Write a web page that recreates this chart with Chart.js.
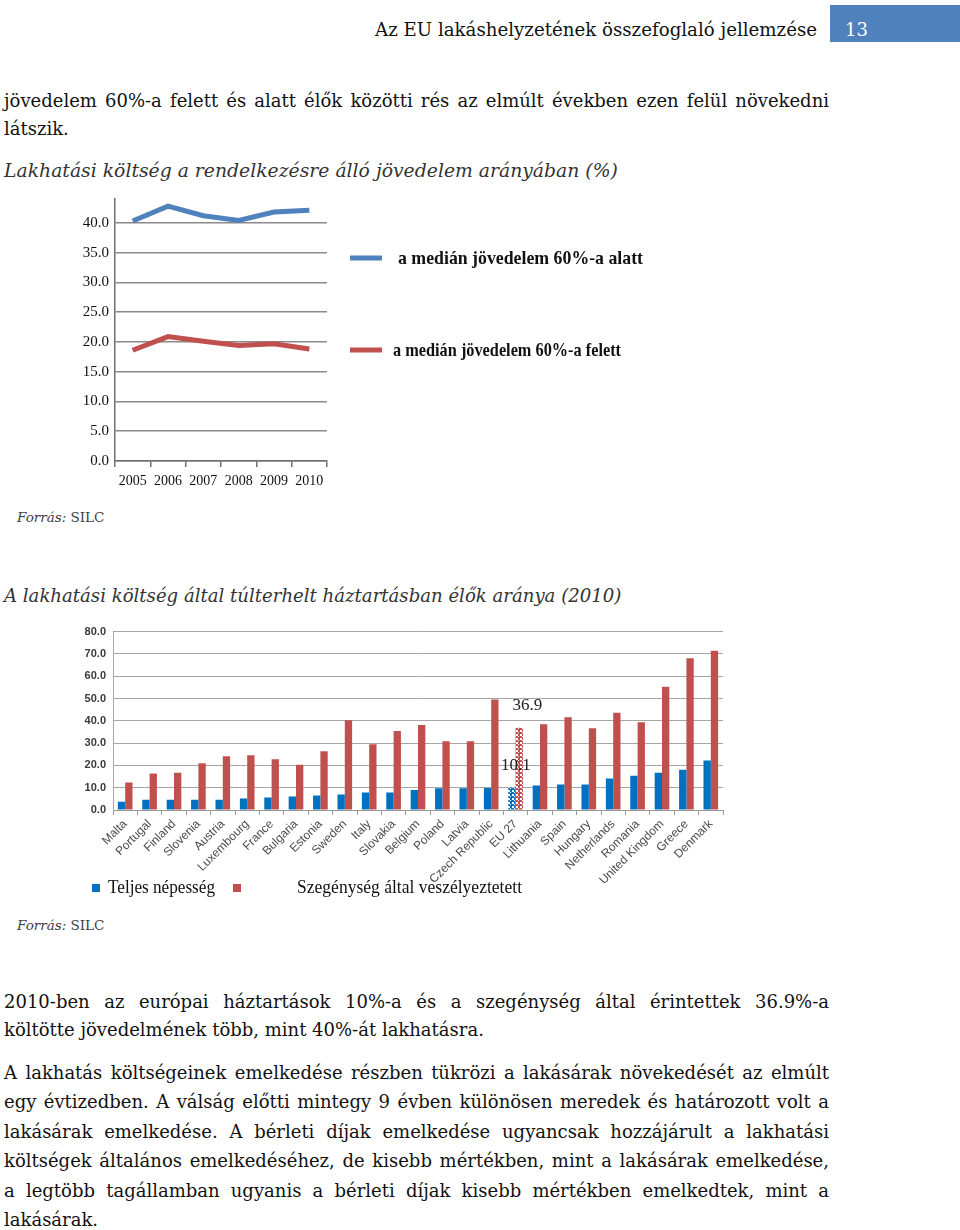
<!DOCTYPE html>
<html lang="hu">
<head>
<meta charset="utf-8">
<script src="https://cdn.jsdelivr.net/npm/chart.js@4.4.1/dist/chart.umd.min.js"></script>
<style>
body{margin:0;width:960px;height:1230px;position:relative;background:#fff;font-family:'DejaVu Serif',serif;color:#111;overflow:hidden}
.ln{position:absolute;left:4px;width:825px;font-size:18px;line-height:22px;white-space:nowrap}
.j{text-align:justify;text-align-last:justify;white-space:normal}
.cap{font-style:italic;color:#333;font-size:18.6px}
.src{position:absolute;left:17px;font-size:13.5px;line-height:20px;color:#404040}
.hdr{position:absolute;right:143px;top:18px;font-size:18.2px;line-height:24px}
.pg{position:absolute;left:830px;top:5px;width:130px;height:37px;background:#4f81bd}
.pgn{position:absolute;left:845px;top:18px;font-size:18px;line-height:24px;color:#fff}
.box{position:absolute}
</style>
</head>
<body>
<div class="hdr">Az EU lakáshelyzetének összefoglaló jellemzése</div>
<div class="pg"></div>
<div class="pgn">13</div>

<div class="ln j" style="top:90px">jövedelem 60%-a felett és alatt élők közötti rés az elmúlt években ezen felül növekedni</div>
<div class="ln" style="top:118px">látszik.</div>
<div class="ln cap" style="top:160px;font-size:18.8px">Lakhatási költség a rendelkezésre álló jövedelem arányában (%)</div>

<div class="box" style="left:60px;top:184px;width:620px;height:316px"><canvas id="lineChart"></canvas></div>

<div class="src" style="top:507px"><i>Forrás:</i> SILC</div>
<div class="ln cap" style="top:585px;font-size:18.1px">A lakhatási költség által túlterhelt háztartásban élők aránya (2010)</div>

<div class="box" style="left:60px;top:618px;width:680px;height:290px"><canvas id="barChart"></canvas></div>

<div class="src" style="top:915px"><i>Forrás:</i> SILC</div>

<div class="ln j" style="top:991px">2010-ben az európai háztartások 10%-a és a szegénység által érintettek 36.9%-a</div>
<div class="ln" style="top:1019px">költötte jövedelmének több, mint 40%-át lakhatásra.</div>

<div class="ln j" style="top:1062px">A lakhatás költségeinek emelkedése részben tükrözi a lakásárak növekedését az elmúlt</div>
<div class="ln j" style="top:1091px">egy évtizedben. A válság előtti mintegy 9 évben különösen meredek és határozott volt a</div>
<div class="ln j" style="top:1121px">lakásárak emelkedése. A bérleti díjak emelkedése ugyancsak hozzájárult a lakhatási</div>
<div class="ln j" style="top:1150px">költségek általános emelkedéséhez, de kisebb mértékben, mint a lakásárak emelkedése,</div>
<div class="ln j" style="top:1180px">a legtöbb tagállamban ugyanis a bérleti díjak kisebb mértékben emelkedtek, mint a</div>
<div class="ln" style="top:1209px">lakásárak.</div>

<script>
// 1. ábra: lakhatási költség a jövedelem arányában (%)
const years = ['2005', '2006', '2007', '2008', '2009', '2010'];
const belowMedian = [40.3, 42.8, 41.2, 40.4, 41.8, 42.1];
const aboveMedian = [18.6, 20.9, 20.1, 19.4, 19.7, 18.8];
const lineLabels = ['a medián jövedelem 60%-a alatt', 'a medián jövedelem 60%-a felett'];

// 2. ábra: túlterhelt háztartásban élők aránya (2010)
const countries = ['Malta', 'Portugal', 'Finland', 'Slovenia', 'Austria', 'Luxembourg', 'France',
    'Bulgaria', 'Estonia', 'Sweden', 'Italy', 'Slovakia', 'Belgium', 'Poland', 'Latvia',
    'Czech Republic', 'EU 27', 'Lithuania', 'Spain', 'Hungary', 'Netherlands', 'Romania',
    'United Kingdom', 'Greece', 'Denmark'];
const totalPop = [3.7, 4.6, 4.6, 4.6, 4.6, 5.2, 5.6, 6.1, 6.5, 7.0, 7.9, 7.9, 9.0, 9.8, 9.8,
    9.9, 10.1, 11.0, 11.4, 11.4, 14.1, 15.4, 16.7, 18.1, 22.2];
const atRisk = [12.3, 16.4, 16.7, 21.0, 24.1, 24.6, 22.8, 20.3, 26.4, 40.3, 29.5, 35.4, 38.1, 30.8, 30.8,
    49.5, 36.9, 38.4, 41.6, 36.7, 43.6, 39.4, 55.3, 68.0, 71.4];
const barLabels = ['Teljes népesség', 'Szegénység által veszélyeztetett'];
const highlight = 'EU 27';

const BLUE_LINE = '#4f81bd';
const RED = '#c0504d';
const BLUE_BAR = '#0070c0';

// szöveg vízszintes nyújtása adott szélességre
function fitText(ctx, text, x, y, w) {
    const m = ctx.measureText(text).width;
    ctx.save();
    ctx.translate(x, y);
    ctx.scale(w / m, 1);
    ctx.fillText(text, 0, 0);
    ctx.restore();
}

// pöttyös minta az EU 27 oszlopokhoz
function dots(color) {
    const c = document.createElement('canvas');
    c.width = 4; c.height = 4;
    const g = c.getContext('2d');
    g.fillStyle = color;
    g.fillRect(0, 0, 4, 4);
    g.fillStyle = '#fff';
    g.fillRect(0, 0, 2, 2);
    g.fillRect(2, 2, 1, 1);
    return g.createPattern(c, 'repeat');
}

const lineLegend = {
    id: 'lineLegend',
    afterDraw(chart) {
        const ctx = chart.ctx;
        const spots = [{ y: 74, tx: 338, w: 245 }, { y: 166, tx: 333, w: 228 }];
        chart.data.datasets.forEach((ds, i) => {
            const s = spots[i];
            ctx.save();
            ctx.strokeStyle = ds.borderColor;
            ctx.lineWidth = 5;
            ctx.beginPath();
            ctx.moveTo(290, s.y);
            ctx.lineTo(322, s.y);
            ctx.stroke();
            ctx.fillStyle = '#111';
            ctx.font = 'bold 19px "Liberation Serif"';
            ctx.textBaseline = 'middle';
            fitText(ctx, ds.label, s.tx, s.y + 1, s.w);
            ctx.restore();
        });
    }
};

new Chart(document.getElementById('lineChart'), {
    type: 'line',
    data: {
        labels: years,
        datasets: [
            { label: lineLabels[0], data: belowMedian, borderColor: BLUE_LINE, borderWidth: 5, pointRadius: 0, tension: 0 },
            { label: lineLabels[1], data: aboveMedian, borderColor: RED, borderWidth: 5, pointRadius: 0, tension: 0 }
        ]
    },
    options: {
        responsive: true,
        maintainAspectRatio: false,
        animation: false,
        layout: { padding: { left: 0, right: 353, top: 1, bottom: 0 } },
        plugins: { legend: { display: false }, tooltip: { enabled: false } },
        scales: {
            x: {
                offset: true,
                grid: { offset: true, drawOnChartArea: false, tickLength: 6, color: '#6f6f6f', lineWidth: 1.5 },
                border: { color: '#6f6f6f', width: 1.5 },
                ticks: {
                    maxRotation: 0, minRotation: 0, autoSkip: false, color: '#111', padding: 6,
                    font: { family: 'Liberation Serif', size: 14 }
                },
                afterFit(scale) { scale.height = 39; }
            },
            y: {
                min: 0,
                max: 44,
                ticks: {
                    stepSize: 5,
                    color: '#111',
                    padding: 6,
                    font: { family: 'Liberation Serif', size: 15 },
                    callback: v => v.toFixed(1)
                },
                afterBuildTicks(scale) { scale.ticks = scale.ticks.filter(t => t.value % 5 === 0); },
                grid: { color: '#8a8a8a', lineWidth: 1.5, drawTicks: false },
                border: { color: '#6f6f6f', width: 1.5 },
                afterFit(scale) { scale.width = 55; }
            }
        }
    },
    plugins: [lineLegend]
});

const barExtras = {
    id: 'barExtras',
    afterDraw(chart) {
        const ctx = chart.ctx;
        const idx = chart.data.labels.indexOf(highlight);
        ctx.save();
        ctx.fillStyle = '#222';
        ctx.font = '17px "Liberation Serif"';
        ctx.textAlign = 'center';
        ctx.textBaseline = 'middle';
        const red = chart.getDatasetMeta(1).data[idx];
        const blue = chart.getDatasetMeta(0).data[idx];
        ctx.fillText(chart.data.datasets[1].data[idx].toFixed(1), red.x + 8, red.y - 22);
        ctx.fillText(chart.data.datasets[0].data[idx].toFixed(1), blue.x + 4, blue.y - 22);

        // jelmagyarázat
        const spots = [{ sx: 32, tx: 48, w: 107 }, { sx: 173, tx: 237, w: 225 }];
        ctx.font = '19px "Liberation Serif"';
        ctx.textAlign = 'left';
        ctx.textBaseline = 'alphabetic';
        chart.data.datasets.forEach((ds, i) => {
            const s = spots[i];
            ctx.fillStyle = ds.legendColor;
            ctx.fillRect(s.sx, 266, 8, 8);
            ctx.fillStyle = '#111';
            fitText(ctx, ds.label, s.tx, 275, s.w);
        });
        ctx.restore();
    }
};

new Chart(document.getElementById('barChart'), {
    type: 'bar',
    data: {
        labels: countries,
        datasets: [
            {
                label: barLabels[0], data: totalPop, legendColor: BLUE_BAR,
                backgroundColor: countries.map(c => c === highlight ? dots(BLUE_BAR) : BLUE_BAR)
            },
            {
                label: barLabels[1], data: atRisk, legendColor: RED,
                backgroundColor: countries.map(c => c === highlight ? dots(RED) : RED)
            }
        ]
    },
    options: {
        responsive: true,
        maintainAspectRatio: false,
        animation: false,
        datasets: { bar: { barPercentage: 1, categoryPercentage: 0.6 } },
        layout: { padding: { left: 0, right: 17, top: 12, bottom: 0 } },
        plugins: { legend: { display: false }, tooltip: { enabled: false } },
        scales: {
            x: {
                grid: { offset: true, drawOnChartArea: false, tickLength: 5, color: '#9a9a9a' },
                border: { color: '#9a9a9a' },
                ticks: {
                    autoSkip: false, maxRotation: 45, minRotation: 45, padding: 2,
                    color: '#4a4a4a', font: { family: 'Liberation Sans', size: 12 }
                },
                afterFit(scale) { scale.height = 98; }
            },
            y: {
                min: 0,
                max: 80,
                ticks: {
                    stepSize: 10, color: '#3a3a3a', padding: 7,
                    font: { family: 'Liberation Sans', size: 11, weight: 'bold' },
                    callback: v => v.toFixed(1)
                },
                grid: { color: '#a6a6a6', drawTicks: false },
                border: { color: '#a6a6a6' },
                afterFit(scale) { scale.width = 53; }
            }
        }
    },
    plugins: [barExtras]
});
</script>
</body>
</html>
